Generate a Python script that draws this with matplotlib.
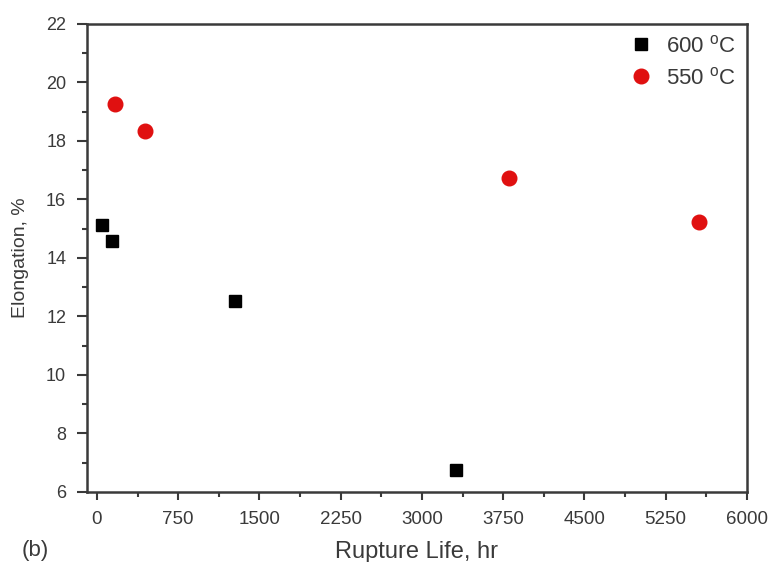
import numpy as np
import matplotlib.pyplot as plt

plt.rcParams['font.family'] = ['Liberation Sans', 'DejaVu Sans']

# === Data ===
life_600 = [46, 141, 1274, 3314]
elong_600 = [15.13, 14.58, 12.53, 6.75]
life_550 = [166, 443, 3803, 5557]
elong_550 = [19.26, 18.34, 16.73, 15.23]

x_ticks = [0, 750, 1500, 2250, 3000, 3750, 4500, 5250, 6000]
y_ticks = [6, 8, 10, 12, 14, 16, 18, 20, 22]

ink = '#3a3a3a'

fig = plt.figure(figsize=(7.7, 5.62), dpi=100)
ax = fig.add_axes([0.113, 0.1246, 0.857, 0.8327])

ax.plot(life_600, elong_600, 's', color='black', markersize=9, label='600 $^\\mathregular{o}$C')
ax.plot(life_550, elong_550, 'o', color='#e01010', markersize=10.5, label='550 $^\\mathregular{o}$C')

ax.set_xlim(-92, 6000)
ax.set_ylim(6, 22)
ax.set_xticks(x_ticks)
ax.set_yticks(y_ticks)
ax.set_xticks(np.arange(375, 6000, 750), minor=True)
ax.set_yticks(np.arange(7, 22, 2), minor=True)

for s in ax.spines.values():
    s.set_color(ink)
    s.set_linewidth(1.8)

ax.tick_params(which='major', direction='out', width=1.5, color=ink, labelcolor=ink)
ax.tick_params(which='minor', direction='out', length=3.5, width=1.5, color=ink)
ax.tick_params(axis='x', which='major', length=6, labelsize=13.5, pad=8)
ax.tick_params(axis='y', which='major', length=7, labelsize=13, pad=8)

ax.set_xlabel('Rupture Life, hr', fontsize=17, color=ink, labelpad=9)
ax.set_ylabel('Elongation, %', fontsize=14, color=ink, labelpad=12)
fig.text(0.028, 0.01, '(b)', fontsize=16, color=ink)

ax.legend(loc='upper right', frameon=False, fontsize=16, handletextpad=0.5,
          borderaxespad=0.1, labelcolor=ink, handlelength=1.2, labelspacing=0.45)

fig.savefig('out.png', dpi=100)
